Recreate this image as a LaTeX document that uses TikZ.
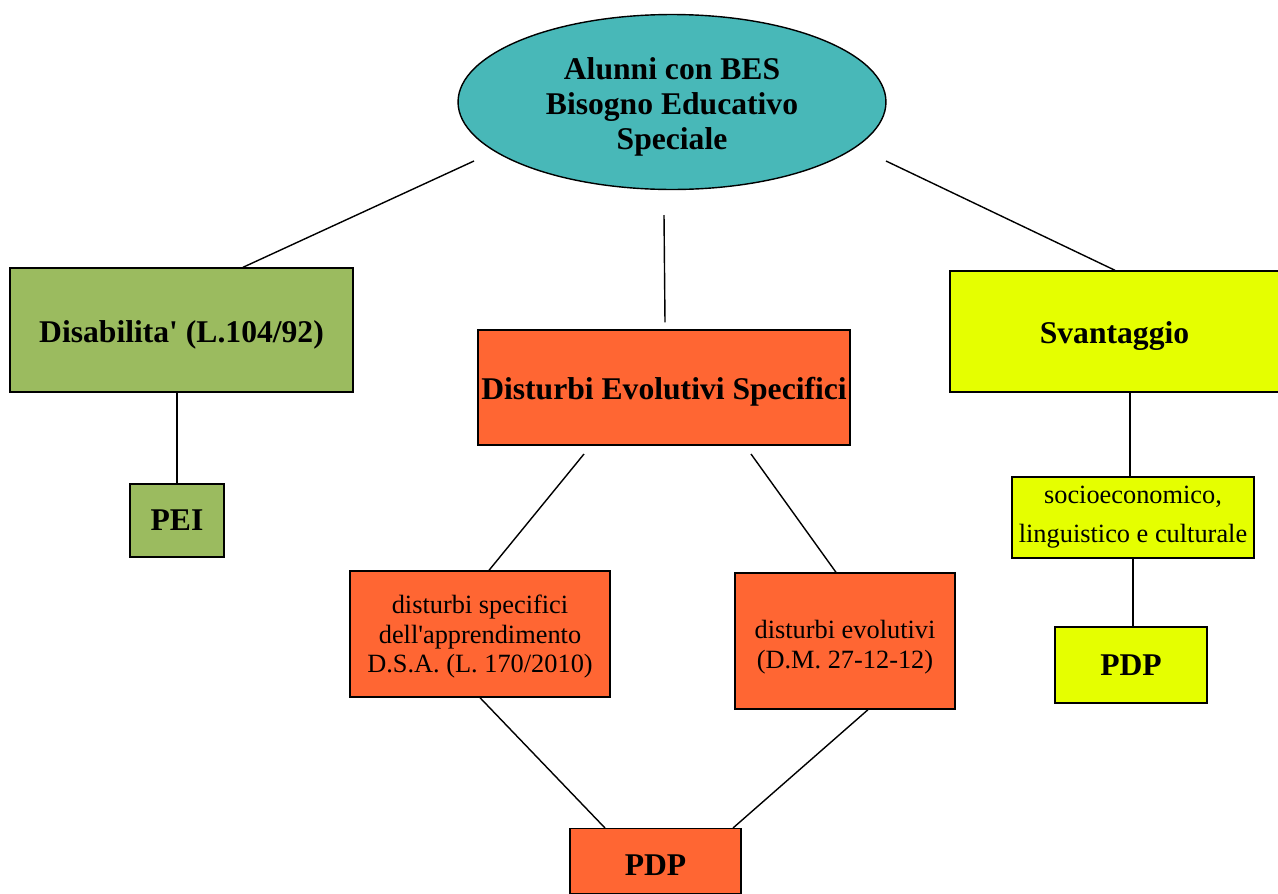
\documentclass[tikz,border=0pt]{standalone}
\usepackage{fontspec}
\setmainfont{Liberation Serif}
\usepackage{tikz}
\usepackage{xcolor}
\usetikzlibrary{shapes.geometric,calc}
\definecolor{bes-teal}{HTML}{48B8B8}
\definecolor{bes-green}{HTML}{9BBB5F}
\definecolor{bes-orange}{HTML}{FF6633}
\definecolor{bes-yellow}{HTML}{E5FF00}
\newcommand{\besrule}[1]{\rule{0pt}{#1}}
\tikzset{
    base-box/.style = {draw=black, thick, rectangle, inner sep=0pt, align=center},
    big-label/.style = {font=\fontsize{18}{20}\selectfont\bfseries},
    small-label/.style = {font=\fontsize{15}{17}\selectfont},
    green-box/.style = {base-box, fill=bes-green},
    orange-box/.style = {base-box, fill=bes-orange},
    yellow-box/.style = {base-box, fill=bes-yellow},
    link/.style = {draw=black, thick},
}

\begin{document}
\begin{tikzpicture}[x=0.02cm, y=-0.02cm]
\useasboundingbox (0,0) rectangle (1278,893);
% top ellipse
\node [ellipse, draw=black, thick, fill=bes-teal, inner sep=0pt, minimum width=8.56cm, minimum height=3.5cm, big-label, align=center] (bes) at (672,102) {\besrule{18pt}Alunni con BES\\Bisogno Educativo\\Speciale};
% first level
\node [green-box, big-label, minimum width=6.86cm, minimum height=2.48cm] (dis) at (181.5,330) {\besrule{18pt}Disabilita\textquotesingle{} (L.104/92)};
\node [orange-box, big-label, minimum width=7.44cm, minimum height=2.3cm] (des) at (664,387.5) {\besrule{18pt}Disturbi Evolutivi Specifici};
\node [yellow-box, big-label, minimum width=6.58cm, minimum height=2.42cm] (svan) at (1114.5,331.5) {\besrule{18pt}Svantaggio};
% second level
\node [green-box, big-label, minimum width=1.88cm, minimum height=1.46cm] (pei) at (177,520.5) {PEI};
\node [orange-box, small-label, minimum width=5.2cm, minimum height=2.52cm] (dsa) at (480,634) {\besrule{13.5pt}disturbi specifici\\dell\textquotesingle{}apprendimento\\D.S.A. (L. 170/2010)};
\node [orange-box, small-label, minimum width=4.4cm, minimum height=2.72cm] (evo) at (845,641) {\besrule{17pt}disturbi evolutivi\\(D.M. 27-12-12)};
\node [yellow-box, small-label, minimum width=4.84cm, minimum height=1.62cm] (socio) at (1133,517.5) {socioeconomico,\\\besrule{19pt}linguistico e culturale};
% third level
\node [yellow-box, big-label, minimum width=3.04cm, minimum height=1.52cm] (pdp-svan) at (1131,665) {PDP};
\node [orange-box, big-label, minimum width=3.42cm, minimum height=1.3cm, anchor=north] (pdp) at (655.5,828) {};
\node [big-label] (pdp-text) at (655.5,865) {PDP};
% free ends of the connectors
\coordinate (bes-left) at (474,161);
\coordinate (bes-mid) at (664,215);
\coordinate (bes-right) at (886,161);
\coordinate (des-left) at (584,454);
\coordinate (des-right) at (751,454);
% connectors
\draw [link] (bes-left) -- ($(dis.north)+(61.5,0)$);
\draw [link] (bes-mid) -- ($(des.north)+(1,-7)$);
\draw [link] (bes-right) -- ($(svan.north)+(0.5,0)$);
\draw [link] (pei.north |- dis.south) -- (pei.north);
\draw [link] (des-left) -- ($(dsa.north)+(9,0)$);
\draw [link] (des-right) -- ($(evo.north)+(-9,0)$);
\draw [link] ($(socio.north |- svan.south)+(-3,0)$) -- ($(socio.north)+(-3,0)$);
\draw [link] (socio.south) -- (socio.south |- pdp-svan.north);
\draw [link] (dsa.south) -- ($(pdp.north)+(-50.5,0)$);
\draw [link] ($(evo.south)+(23,0)$) -- ($(pdp.north)+(77.5,0)$);
\end{tikzpicture}
\end{document}
